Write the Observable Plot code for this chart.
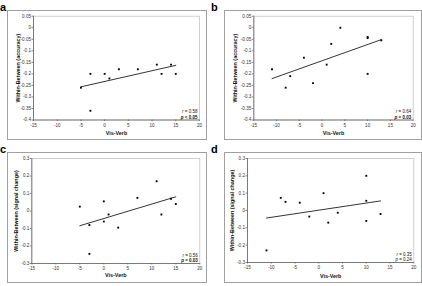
<!DOCTYPE html>
<html><head><meta charset="utf-8">
<script src="https://cdn.jsdelivr.net/npm/d3@7"></script>
<script src="https://cdn.jsdelivr.net/npm/@observablehq/plot@0.6"></script>
<style>
html,body{margin:0;padding:0;background:#fff;}
#root{position:relative;width:422px;height:286px;overflow:hidden;font-family:"Liberation Sans",Arial,sans-serif;}
.frame{position:absolute;box-sizing:border-box;border:1px solid #a0a0a0;}
.letter{position:absolute;font-weight:bold;font-size:11px;line-height:11px;color:#000;}
.chart{position:absolute;}
</style></head><body><div id="root"></div>
<script>
// ---- data ----
const xTicks = [-15, -10, -5, 0, 5, 10, 15, 20];
const accTicks = [0.05, 0, -0.05, -0.1, -0.15, -0.2, -0.25, -0.3, -0.35, -0.4];
const sigTicks = [0.3, 0.2, 0.1, 0, -0.1, -0.2, -0.3];
const aX = [-5, -3, -3, 0, 1, 3, 7, 11, 12, 14, 15];
const aY = [-0.26, -0.2, -0.36, -0.2, -0.22, -0.18, -0.18, -0.16, -0.2, -0.16, -0.2];
const bX = [-11, -8, -7, -4, -2, 1, 2, 4, 10, 10, 10, 13];
const bY = [-0.18, -0.26, -0.21, -0.13, -0.24, -0.16, -0.07, 0, -0.04, -0.045, -0.2, -0.055];
const cX = [-5, -3, -3, 0, 0, 1, 3, 7, 11, 12, 14, 15];
const cY = [0.025, -0.08, -0.245, 0.055, -0.06, -0.02, -0.095, 0.075, 0.17, -0.02, 0.07, 0.04];
const dX = [-11, -8, -7, -4, -2, 1, 2, 4, 10, 10, 10, 13];
const dY = [-0.23, 0.073, 0.05, 0.045, -0.035, 0.1, -0.07, -0.013, 0.2, 0.056, -0.06, -0.02];
const panelLetters = ["a", "b", "c", "d"];
const yTitles = ["Within-Between (accuracy)", "Within-Between (accuracy)", "Within-Between (signal change)", "Within-Between (signal change)"];
const xTitle = "Vis-Verb";
const rTexts = ["0.58", "0.64", "0.56", "0.35"];
const pTexts = ["< 0.05", "= 0.03", "= 0.03", "= 0.24"];

// ---- layout ----
const layout = [
  {fx: 7, fy: 10, fw: 200, fh: 130, l: 33, r: 199, t: 15.7, b: 119.5, tx: 18, ty: 133, pBold: true, letter: [0, 1.6]},
  {fx: 224, fy: 10, fw: 198, fh: 130, l: 253.3, r: 412.7, t: 15.7, b: 119.5, tx: 235, ty: 133, pBold: true, letter: [211, 1.6]},
  {fx: 7, fy: 152, fw: 200, fh: 131, l: 31.3, r: 199.3, t: 158, b: 263, tx: 16, ty: 275, pBold: true, letter: [0, 143.5]},
  {fx: 224, fy: 152, fw: 198, fh: 131, l: 247, r: 413.3, t: 158, b: 262, tx: 232, ty: 275.5, pBold: false, letter: [211, 143.5]}
];
const series = [[aX, aY, accTicks], [bX, bY, accTicks], [cX, cY, sigTicks], [dX, dY, sigTicks]];

const root = document.getElementById("root");
layout.forEach((L, i) => {
  const [xs, ys, yt] = series[i];
  const data = xs.map((x, k) => ({x, y: ys[k]}));
  const yDomain = [d3.min(yt), d3.max(yt)];
  const fr = document.createElement("div");
  fr.className = "frame";
  Object.assign(fr.style, {left: L.fx + "px", top: L.fy + "px", width: L.fw + "px", height: L.fh + "px"});
  root.appendChild(fr);
  const let_ = document.createElement("div");
  let_.className = "letter";
  let_.textContent = panelLetters[i];
  Object.assign(let_.style, {left: L.letter[0] + "px", top: L.letter[1] + "px"});
  root.appendChild(let_);

  const mL = L.l - L.fx, mR = L.fx + L.fw - L.r, mT = L.t - L.fy, mB = L.fy + L.fh - L.b;
  const fmt = d => String(d);
  const svg = Plot.plot({
    width: L.fw, height: L.fh,
    marginLeft: mL, marginRight: mR, marginTop: mT, marginBottom: mB,
    style: {fontFamily: "'Liberation Sans', Arial, sans-serif", fontSize: "4.6px", color: "#222", background: "transparent", overflow: "visible"},
    x: {domain: [-15, 20]},
    y: {domain: yDomain},
    marks: [
      Plot.frame({stroke: "#c4c4c4", strokeWidth: 0.8}),
      Plot.axisX({ticks: xTicks, tickFormat: fmt, tickSize: 1.5, tickPadding: 1.8, label: null, color: "#333", strokeWidth: 0.6}),
      Plot.axisY({ticks: yt, tickFormat: fmt, tickSize: 1.5, tickPadding: 1, label: null, color: "#333", strokeWidth: 0.6}),
      Plot.ruleX([-15], {stroke: "#555", strokeWidth: 0.7}),
      Plot.ruleY([yDomain[0]], {stroke: "#555", strokeWidth: 0.7}),
      Plot.linearRegressionY(data, {x: "x", y: "y", ci: 0, stroke: "#000", strokeWidth: 0.8}),
      Plot.dot(data, {x: "x", y: "y", symbol: "square", r: 1.05, fill: "#000", stroke: "none"}),
      Plot.text([yTitles[i]], {frameAnchor: "left", textAnchor: "middle", lineAnchor: "middle", rotate: -90, dx: L.tx - L.l, fontWeight: "bold", fontSize: 5.4, fill: "#111"}),
      Plot.text([xTitle], {frameAnchor: "bottom", textAnchor: "middle", lineAnchor: "middle", dy: L.ty - L.b, fontWeight: "bold", fontSize: 5.4, fill: "#111"}),
      Plot.text(["r = " + rTexts[i]], {frameAnchor: "bottom-right", textAnchor: "end", lineAnchor: "bottom", dx: -2, dy: -6.6, fontSize: 4.5, fill: "#111"}),
      Plot.text(["p " + pTexts[i]], {frameAnchor: "bottom-right", textAnchor: "end", lineAnchor: "bottom", dx: -2, dy: -1.3, fontSize: 4.5, fill: "#111", fontWeight: L.pBold ? "bold" : "normal"})
    ]
  });
  d3.select(svg).selectAll("text").each(function () {
    const t = this.textContent;
    if (/^[rp] [=<]/.test(t)) {
      const s = d3.select(this);
      const rest = t.slice(1);
      const letter = t[0];
      const parentTspan = s.select("tspan");
      const target = parentTspan.empty() ? s : parentTspan;
      target.text(null);
      target.append("tspan").attr("font-style", "italic").text(letter);
      target.append("tspan").text(rest);
    }
  });
  const wrap = document.createElement("div");
  wrap.className = "chart";
  Object.assign(wrap.style, {left: L.fx + "px", top: L.fy + "px"});
  wrap.appendChild(svg);
  root.appendChild(wrap);
});
</script></body></html>
